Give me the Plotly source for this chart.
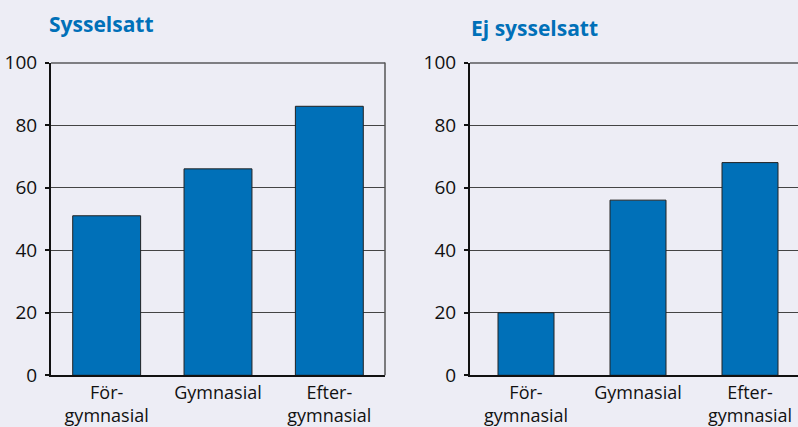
import plotly.graph_objects as go

categories = ["För-<br>gymnasial", "Gymnasial", "Efter-<br>gymnasial"]
sysselsatt = [51, 66, 86]
ej_sysselsatt = [20, 56, 68]
titles = ["Sysselsatt", "Ej sysselsatt"]
yticks = [0, 20, 40, 60, 80, 100]

BG = "#ededf5"
BAR = "#0070b8"
FONT = "Open Sans"

fig = go.Figure()
fig.add_trace(go.Bar(x=categories, y=sysselsatt, xaxis="x", yaxis="y",
                     marker=dict(color=BAR, line=dict(color="#222", width=1)), width=0.61))
fig.add_trace(go.Bar(x=categories, y=ej_sysselsatt, xaxis="x2", yaxis="y2",
                     marker=dict(color=BAR, line=dict(color="#222", width=1)), width=0.5))

W, H = 798, 427
ydom = [1 - 375.3 / H, 1 - 62.5 / H]

common_y = dict(range=[0, 100], tickvals=yticks, showgrid=True, gridcolor="#444", gridwidth=1,
                showline=True, linecolor="#111", linewidth=2, ticks="outside", ticklen=4,
                tickcolor="#111", tickwidth=1.5, zeroline=False, automargin=False,
                tickfont=dict(family=FONT, size=19, color="#111"), ticklabelstandoff=4, fixedrange=True)
common_x = dict(showline=True, linecolor="#111", linewidth=2, ticks="", showgrid=False,
                automargin=False,
                tickfont=dict(family=FONT, size=18, color="#111"), fixedrange=True)

fig.update_layout(
    width=W, height=H, paper_bgcolor=BG, plot_bgcolor=BG, showlegend=False,
    margin=dict(l=0, r=0, t=0, b=0),
    xaxis=dict(domain=[51 / W, 385 / W], anchor="y", range=[-0.5, 2.5], **common_x),
    yaxis=dict(domain=ydom, anchor="x", **common_y),
    xaxis2=dict(domain=[470 / W, 1.0], anchor="y2", range=[-0.5, -0.5 + 3 * (328 / 336)], **common_x),
    yaxis2=dict(domain=ydom, anchor="x2", **common_y),
    shapes=[
        dict(type="line", xref="x domain", yref="y", x0=0, x1=1, y0=100, y1=100,
             line=dict(color="#111", width=2)),
        dict(type="line", xref="x domain", yref="y domain", x0=1, x1=1, y0=0, y1=1,
             line=dict(color="#555", width=1.5)),
        dict(type="line", xref="x2 domain", yref="y2", x0=0, x1=1, y0=100, y1=100,
             line=dict(color="#111", width=2)),
    ],
    annotations=[
        dict(text="<b>" + titles[0] + "</b>", xref="paper", yref="paper", x=47 / W, y=1 - 24 / H,
             xanchor="left", yanchor="middle", showarrow=False,
             font=dict(family=FONT, size=21, color=BAR)),
        dict(text="<b>" + titles[1] + "</b>", xref="paper", yref="paper", x=469 / W, y=1 - 28 / H,
             xanchor="left", yanchor="middle", showarrow=False,
             font=dict(family=FONT, size=21, color=BAR)),
    ],
)

fig.write_html("out.html", config={"displayModeBar": False},
               post_script="document.body.style.margin='0';document.body.style.overflow='hidden';")
